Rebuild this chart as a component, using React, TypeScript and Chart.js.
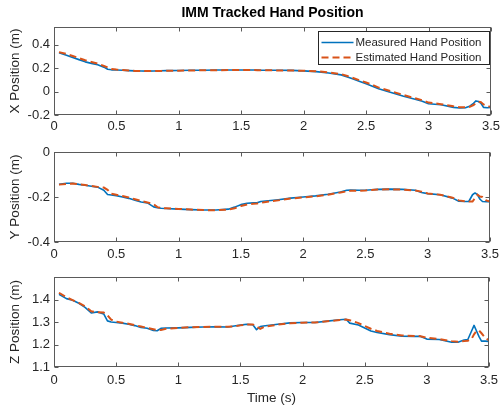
import React, { useEffect, useRef } from 'react';
import { Chart, registerables } from 'chart.js';
Chart.register(...registerables);

const TIME = [0.04, 0.1, 0.15, 0.2, 0.25, 0.3, 0.35, 0.4, 0.43, 0.46, 0.5, 0.55, 0.6, 0.65, 0.7, 0.75, 0.8, 0.83, 0.86, 0.9, 1.0, 1.1, 1.2, 1.3, 1.4, 1.45, 1.5, 1.55, 1.6, 1.63, 1.66, 1.7, 1.8, 1.9, 2.0, 2.1, 2.2, 2.3, 2.35, 2.38, 2.45, 2.5, 2.55, 2.6, 2.7, 2.8, 2.9, 2.95, 3.0, 3.1, 3.2, 3.25, 3.3, 3.33, 3.36, 3.38, 3.4, 3.42, 3.44, 3.47, 3.5];

const X_MEAS = [0.33, 0.31, 0.29, 0.272, 0.253, 0.24, 0.228, 0.208, 0.19, 0.185, 0.184, 0.181, 0.178, 0.176, 0.175, 0.174, 0.175, 0.176, 0.177, 0.178, 0.179, 0.181, 0.182, 0.183, 0.184, 0.184, 0.184, 0.184, 0.183, 0.183, 0.182, 0.182, 0.181, 0.18, 0.176, 0.17, 0.158, 0.142, 0.124, 0.113, 0.085, 0.066, 0.046, 0.024, -0.009, -0.041, -0.068, -0.082, -0.104, -0.113, -0.135, -0.14, -0.137, -0.125, -0.1, -0.08, -0.085, -0.1, -0.135, -0.138, -0.135];
const X_EST = [0.336, 0.32, 0.303, 0.285, 0.267, 0.252, 0.238, 0.218, 0.205, 0.192, 0.187, 0.183, 0.179, 0.176, 0.175, 0.174, 0.174, 0.175, 0.176, 0.177, 0.178, 0.18, 0.181, 0.182, 0.183, 0.183, 0.183, 0.183, 0.183, 0.182, 0.182, 0.181, 0.18, 0.179, 0.177, 0.173, 0.163, 0.148, 0.132, 0.122, 0.095, 0.077, 0.057, 0.034, 0.002, -0.03, -0.06, -0.074, -0.094, -0.108, -0.126, -0.133, -0.135, -0.13, -0.115, -0.1, -0.087, -0.09, -0.11, -0.125, -0.13];

const Y_MEAS = [-0.144, -0.139, -0.139, -0.144, -0.148, -0.152, -0.156, -0.17, -0.189, -0.191, -0.194, -0.2, -0.206, -0.214, -0.222, -0.226, -0.244, -0.248, -0.25, -0.251, -0.254, -0.256, -0.258, -0.258, -0.254, -0.245, -0.234, -0.228, -0.226, -0.226, -0.22, -0.218, -0.212, -0.205, -0.2, -0.195, -0.188, -0.178, -0.17, -0.169, -0.17, -0.17, -0.168, -0.166, -0.165, -0.166, -0.17, -0.18, -0.185, -0.19, -0.205, -0.219, -0.22, -0.22, -0.19, -0.182, -0.19, -0.21, -0.22, -0.221, -0.221];
const Y_EST = [-0.145, -0.142, -0.14, -0.143, -0.147, -0.151, -0.155, -0.158, -0.168, -0.185, -0.19, -0.196, -0.202, -0.21, -0.218, -0.224, -0.232, -0.245, -0.249, -0.25, -0.253, -0.256, -0.258, -0.259, -0.256, -0.25, -0.24, -0.233, -0.23, -0.229, -0.226, -0.222, -0.215, -0.207, -0.202, -0.197, -0.19, -0.18, -0.175, -0.172, -0.172, -0.171, -0.169, -0.167, -0.166, -0.167, -0.171, -0.176, -0.184, -0.19, -0.203, -0.215, -0.219, -0.22, -0.22, -0.205, -0.19, -0.198, -0.2, -0.215, -0.22];

const Z_MEAS = [1.423, 1.404, 1.397, 1.383, 1.365, 1.34, 1.345, 1.336, 1.305, 1.3, 1.298, 1.295, 1.29, 1.284, 1.276, 1.272, 1.262, 1.261, 1.272, 1.273, 1.274, 1.276, 1.278, 1.279, 1.278, 1.282, 1.286, 1.29, 1.288, 1.266, 1.28, 1.283, 1.29, 1.296, 1.298, 1.298, 1.304, 1.31, 1.312, 1.295, 1.287, 1.273, 1.26, 1.253, 1.244, 1.237, 1.236, 1.236, 1.224, 1.222, 1.21, 1.21, 1.22, 1.222, 1.26, 1.285, 1.26, 1.235, 1.215, 1.215, 1.214];
const Z_EST = [1.43, 1.41, 1.397, 1.385, 1.37, 1.348, 1.343, 1.342, 1.33, 1.31, 1.302, 1.297, 1.292, 1.286, 1.28, 1.274, 1.268, 1.264, 1.264, 1.27, 1.274, 1.277, 1.278, 1.279, 1.279, 1.281, 1.285, 1.289, 1.289, 1.28, 1.27, 1.28, 1.288, 1.294, 1.297, 1.298, 1.303, 1.309, 1.311, 1.308, 1.295, 1.282, 1.27, 1.26, 1.248, 1.24, 1.238, 1.237, 1.23, 1.224, 1.215, 1.212, 1.215, 1.217, 1.225, 1.245, 1.26, 1.262, 1.25, 1.23, 1.218];

const X_TICKS = [0, 0.5, 1, 1.5, 2, 2.5, 3, 3.5];
const X_TICK_LABELS = ['0', '0.5', '1', '1.5', '2', '2.5', '3', '3.5'];
const PX_TICKS = [-0.2, 0, 0.2, 0.4];
const PX_TICK_LABELS = ['-0.2', '0', '0.2', '0.4'];
const PY_TICKS = [-0.4, -0.2, 0];
const PY_TICK_LABELS = ['-0.4', '-0.2', '0'];
const PZ_TICKS = [1.1, 1.2, 1.3, 1.4];
const PZ_TICK_LABELS = ['1.1', '1.2', '1.3', '1.4'];

const SERIES_NAMES = ['Measured Hand Position', 'Estimated Hand Position'];
const TITLE = 'IMM Tracked Hand Position';
const X_LABEL = 'Time (s)';
const Y_LABELS = ['X Position (m)', 'Y Position (m)', 'Z Position (m)'];

const BLUE = '#0072BD';
const ORANGE = '#D95319';
const TEXT = '#262626';
const AXIS = '#5a5a5a';
const FONT = "'Liberation Sans', Arial, Helvetica, sans-serif";

const PANELS = [
  { meas: X_MEAS, est: X_EST, min: -0.2, max: 0.55, ticks: PX_TICKS, labels: PX_TICK_LABELS, ylabel: Y_LABELS[0], title: true, legend: true, padTop: 0, padBottom: 268, xh: 25, xpad: 4, xtitle: false },
  { meas: Y_MEAS, est: Y_EST, min: -0.4, max: 0, ticks: PY_TICKS, labels: PY_TICK_LABELS, ylabel: Y_LABELS[1], title: false, legend: false, padTop: 152, padBottom: 141, xh: 25, xpad: 5, xtitle: false },
  { meas: Z_MEAS, est: Z_EST, min: 1.1, max: 1.5, ticks: PZ_TICKS, labels: PZ_TICK_LABELS, ylabel: Y_LABELS[2], title: false, legend: false, padTop: 277, padBottom: 0, xh: 41, xpad: 6, xtitle: true },
];

const boxPlugin = {
  id: 'matlabBox',
  afterDraw(chart: any) {
    const { ctx, chartArea, scales } = chart;
    const { left, right, top, bottom } = chartArea;
    const L = Math.round(left) + 0.5, R = Math.round(right) - 0.5;
    const T = Math.round(top) + 0.5, B = Math.round(bottom) - 0.5;
    ctx.save();
    ctx.strokeStyle = AXIS;
    ctx.lineWidth = 1;
    ctx.setLineDash([]);
    ctx.strokeRect(L, T, R - L, B - T);
    const tl = 4;
    ctx.beginPath();
    scales.x.ticks.forEach((t: any) => {
      const px = Math.round(scales.x.getPixelForValue(t.value)) + 0.5;
      ctx.moveTo(px, B); ctx.lineTo(px, B - tl);
      ctx.moveTo(px, T); ctx.lineTo(px, T + tl);
    });
    scales.y.ticks.forEach((t: any) => {
      const py = Math.round(scales.y.getPixelForValue(t.value)) + 0.5;
      ctx.moveTo(L, py); ctx.lineTo(L + tl, py);
      ctx.moveTo(R, py); ctx.lineTo(R - tl, py);
    });
    ctx.stroke();

    if (chart.options.plugins.matlabBox && chart.options.plugins.matlabBox.legend) {
      const ds = chart.data.datasets;
      const bw = 171, bh = 33;
      const bx = Math.round(right) - bw - 1.5, by = Math.round(top) + 4.5;
      ctx.fillStyle = '#ffffff';
      ctx.fillRect(bx, by, bw, bh);
      ctx.strokeStyle = TEXT;
      ctx.strokeRect(bx, by, bw, bh);
      ctx.font = `11.5px ${FONT}`;
      ctx.textBaseline = 'middle';
      ctx.textAlign = 'left';
      ds.forEach((d: any, i: number) => {
        const y = by + 11 + i * 15;
        ctx.save();
        ctx.strokeStyle = d.borderColor;
        ctx.lineWidth = d.borderWidth;
        ctx.setLineDash(d.borderDash || []);
        ctx.beginPath();
        ctx.moveTo(bx + 3, y); ctx.lineTo(bx + 35, y);
        ctx.stroke();
        ctx.restore();
        ctx.fillStyle = TEXT;
        ctx.fillText(d.label, bx + 37, y + 0.5);
      });
    }
    ctx.restore();
  },
};

function makeConfig(p: any): any {
  return {
    type: 'line',
    data: {
      datasets: [
        { label: SERIES_NAMES[0], data: TIME.map((t, i) => ({ x: t, y: p.meas[i] })), borderColor: BLUE, borderWidth: 1.6, pointRadius: 0, fill: false, tension: 0, order: 2, borderJoinStyle: 'round' },
        { label: SERIES_NAMES[1], data: TIME.map((t, i) => ({ x: t, y: p.est[i] })), borderColor: ORANGE, borderWidth: 2, borderDash: [7, 4], pointRadius: 0, fill: false, tension: 0, order: 1 },
      ],
    },
    options: {
      responsive: false,
      devicePixelRatio: 1,
      animation: false,
      layout: { padding: { left: 0, right: 10, top: p.padTop, bottom: p.padBottom } },
      plugins: {
        legend: { display: false },
        tooltip: { enabled: false },
        title: {
          display: p.title, text: TITLE, fullSize: false, color: '#000',
          font: { family: FONT, size: 14, weight: 'bold' }, padding: { top: 5, bottom: 5.2 },
        },
        matlabBox: { legend: p.legend },
      },
      scales: {
        x: {
          type: 'linear', min: 0, max: 3.5,
          afterBuildTicks: (s: any) => { s.ticks = X_TICKS.map((v) => ({ value: v })); },
          afterFit: (s: any) => { s.height = p.xh; },
          grid: { display: false, drawTicks: false },
          border: { display: false },
          ticks: { autoSkip: false, maxRotation: 0, padding: p.xpad, color: TEXT, font: { family: FONT, size: 13 }, callback: (_v: any, i: number) => X_TICK_LABELS[i] },
          title: { display: p.xtitle, text: X_LABEL, color: TEXT, font: { family: FONT, size: 13.5 }, padding: { top: 0, bottom: 2 } },
        },
        y: {
          type: 'linear', min: p.min, max: p.max,
          afterBuildTicks: (s: any) => { s.ticks = p.ticks.map((v: number) => ({ value: v })); },
          afterFit: (s: any) => { s.width = 54; },
          grid: { display: false, drawTicks: false },
          border: { display: false },
          ticks: { padding: 4, color: TEXT, font: { family: FONT, size: 13 }, callback: (_v: any, i: number) => p.labels[i] },
          title: { display: true, text: p.ylabel, color: TEXT, font: { family: FONT, size: 13.5 }, padding: { top: 7, bottom: 0 } },
        },
      },
    },
    plugins: [boxPlugin],
  };
}

export default function App() {
  const r0 = useRef<HTMLCanvasElement>(null);
  const r1 = useRef<HTMLCanvasElement>(null);
  const r2 = useRef<HTMLCanvasElement>(null);
  useEffect(() => {
    const refs = [r0, r1, r2];
    const charts = PANELS.map((p, i) => new Chart(refs[i].current as HTMLCanvasElement, makeConfig(p)));
    return () => charts.forEach((c) => c.destroy());
  }, []);
  const cs: React.CSSProperties = { position: 'absolute', left: 0, top: 0, width: 504, height: 408 };
  return (
    <div style={{ position: 'fixed', left: 0, top: 0, width: 504, height: 408, background: '#fff' }}>
      <canvas ref={r0} width={504} height={408} style={cs} />
      <canvas ref={r1} width={504} height={408} style={cs} />
      <canvas ref={r2} width={504} height={408} style={cs} />
    </div>
  );
}
